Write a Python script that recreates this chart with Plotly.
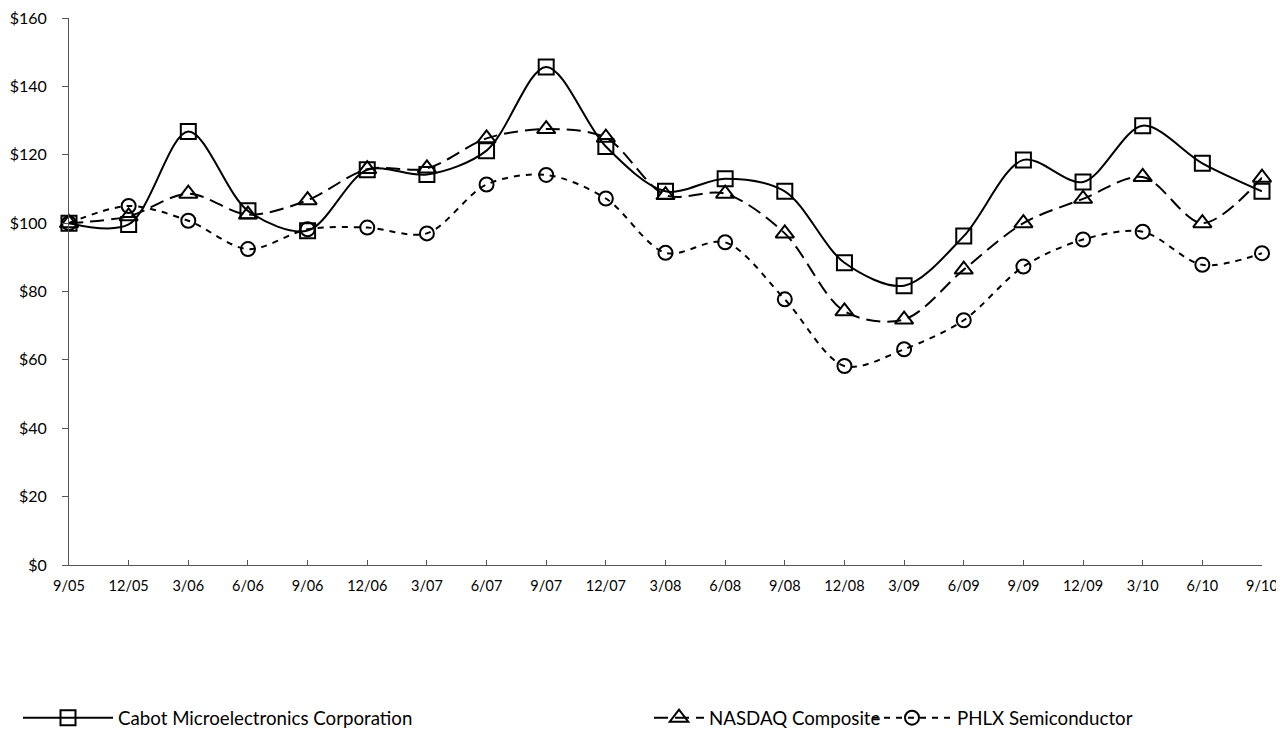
import plotly.graph_objects as go

quarters = ["9/05", "12/05", "3/06", "6/06", "9/06", "12/06", "3/07", "6/07", "9/07", "12/07",
            "3/08", "6/08", "9/08", "12/08", "3/09", "6/09", "9/09", "12/09", "3/10", "6/10", "9/10"]

cabot = [100, 99.6, 126.8, 103.6, 97.8, 115.6, 114.2, 121.2, 145.7, 122.4,
         109.3, 113.0, 109.3, 88.4, 81.7, 96.2, 118.5, 112.0, 128.5, 117.5, 109.3]
nasdaq = [100, 102.0, 108.6, 102.5, 106.7, 115.8, 116.0, 124.8, 127.5, 125.0,
          108.2, 108.6, 97.0, 74.2, 71.8, 86.4, 100.0, 107.1, 113.5, 100.0, 113.3]
phlx = [100, 105.0, 100.7, 92.4, 98.2, 98.7, 97.0, 111.3, 114.1, 107.2,
        91.3, 94.4, 77.7, 58.2, 63.1, 71.6, 87.3, 95.2, 97.5, 87.8, 91.2]

yticks = [0, 20, 40, 60, 80, 100, 120, 140, 160]
ytick_labels = ["$" + str(v) for v in yticks]

FONT = "Lato"
idx = list(range(len(quarters)))

fig = go.Figure()
fig.add_trace(go.Scatter(
    x=idx, y=cabot, name="Cabot Microelectronics Corporation", mode="lines+markers",
    line=dict(color="black", width=2, shape="spline", smoothing=0.9),
    marker=dict(symbol="square-open", size=15, color="black", line=dict(width=2, color="black")),
    cliponaxis=False, legend="legend"))
fig.add_trace(go.Scatter(
    x=idx, y=nasdaq, name="NASDAQ Composite", mode="lines+markers",
    line=dict(color="black", width=2, shape="spline", smoothing=0.9, dash="14px,7px"),
    marker=dict(symbol="triangle-up-open", size=16, color="black", line=dict(width=2, color="black")),
    cliponaxis=False, legend="legend2"))
fig.add_trace(go.Scatter(
    x=idx, y=phlx, name="PHLX Semiconductor", mode="lines+markers",
    line=dict(color="black", width=2, shape="spline", smoothing=0.9, dash="6px,6px"),
    marker=dict(symbol="circle-open", size=14, color="black", line=dict(width=2, color="black")),
    cliponaxis=False, legend="legend3"))

# page body adds an 8px margin at top-left; figure fills the rest of the window
W, H = 1276, 723

def leg(px, iw):
    return dict(orientation="h", xref="container", yref="container",
                x=px / W, y=1 - 710 / H, xanchor="left", yanchor="middle",
                font=dict(family=FONT, size=18.7, color="black"),
                bgcolor="rgba(0,0,0,0)", itemwidth=iw)

fig.update_layout(
    width=W, height=H,
    margin=dict(l=61, r=22, t=10, b=166, autoexpand=False),
    plot_bgcolor="white", paper_bgcolor="white",
    font=dict(family=FONT, size=15, color="black"),
    legend=leg(10, 90),
    legend2=leg(641, 50),
    legend3=leg(859, 80),
    xaxis=dict(range=[0, 20], tickmode="array", tickvals=idx, ticktext=quarters,
               showgrid=False, zeroline=False, showline=True, linecolor="#555", linewidth=1,
               ticks="inside", ticklen=5, tickcolor="#555", automargin=False,
               ticklabelstandoff=8, ticklabeloverflow="allow",
               tickfont=dict(family=FONT, size=14.5, color="black")),
    yaxis=dict(range=[0, 160], tickmode="array", tickvals=yticks, ticktext=ytick_labels,
               showgrid=False, zeroline=False, showline=True, linecolor="#555", linewidth=1,
               ticks="outside", ticklen=6, tickcolor="#555", automargin=False,
               ticklabelstandoff=12, ticklabeloverflow="allow",
               tickfont=dict(family=FONT, size=16, color="black")),
    showlegend=True,
)

fig.write_html("out.html")
